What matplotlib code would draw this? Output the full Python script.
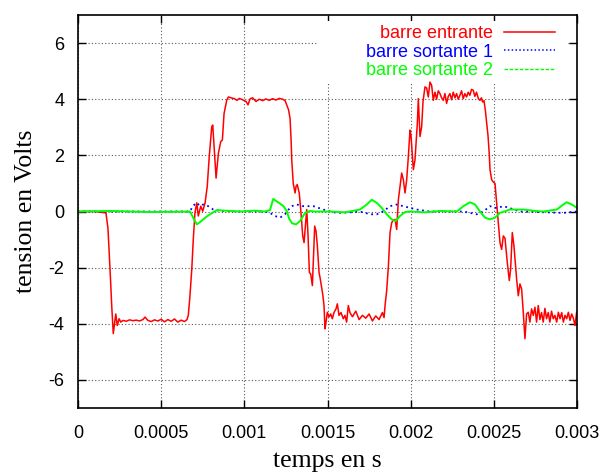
import matplotlib
matplotlib.use("Agg")
import matplotlib.pyplot as plt
from matplotlib.lines import Line2D
from matplotlib.patches import Rectangle
import numpy as np

# temps en ms (converti en s au tracé), tension en V
red_t = [0, 0.102, 0.168, 0.180, 0.192, 0.203, 0.212, 0.227, 0.236, 0.247, 0.257,
         0.27, 0.29, 0.31, 0.33, 0.35, 0.37, 0.39, 0.403, 0.42, 0.44,
         0.46, 0.48, 0.50, 0.52, 0.54, 0.56, 0.58, 0.60, 0.62, 0.64,
         0.655, 0.663, 0.673, 0.684, 0.693, 0.703, 0.714, 0.723, 0.738, 0.750, 0.764, 0.777,
         0.789, 0.804, 0.810, 0.818, 0.830, 0.844, 0.858, 0.868, 0.878, 0.894, 0.904,
         0.92, 0.94, 0.955, 0.97, 0.99, 1.01, 1.022, 1.035, 1.05, 1.07,
         1.09, 1.11, 1.13, 1.15, 1.17, 1.19, 1.21, 1.23, 1.245,
         1.266, 1.275, 1.281, 1.285, 1.294, 1.305, 1.311, 1.318, 1.330, 1.339,
         1.351, 1.359, 1.367, 1.375, 1.383, 1.391, 1.399, 1.409, 1.415, 1.423,
         1.431, 1.439, 1.449, 1.455, 1.463, 1.471, 1.479, 1.485, 1.491, 1.499,
         1.509, 1.519, 1.529, 1.539, 1.551, 1.559, 1.569, 1.581, 1.595, 1.605, 1.615, 1.625,
         1.635, 1.65, 1.67, 1.69, 1.71, 1.73, 1.75, 1.77, 1.79, 1.81, 1.83, 1.84,
         1.846, 1.856, 1.866, 1.876, 1.886, 1.896, 1.906, 1.916, 1.926, 1.936, 1.946, 1.956,
         1.966, 1.976, 1.986, 1.996, 2.002, 2.016, 2.026, 2.040, 2.046, 2.056, 2.066, 2.074,
         2.086, 2.096, 2.106, 2.116, 2.126, 2.136, 2.146, 2.156, 2.166, 2.176,
         2.186, 2.196, 2.206, 2.216, 2.226, 2.236, 2.246, 2.256, 2.266, 2.276,
         2.286, 2.296, 2.306, 2.316, 2.326, 2.336, 2.346, 2.356, 2.366, 2.376,
         2.386, 2.396, 2.407, 2.417, 2.425, 2.433, 2.441,
         2.449, 2.457, 2.465, 2.473, 2.477, 2.487, 2.497, 2.507, 2.517, 2.527,
         2.537, 2.547, 2.557, 2.567, 2.581, 2.593, 2.601, 2.611, 2.621, 2.637,
         2.647, 2.657, 2.667, 2.677, 2.687, 2.697, 2.707, 2.717,
         2.727, 2.737, 2.747, 2.757, 2.767, 2.777, 2.787, 2.797, 2.807, 2.817,
         2.827, 2.837, 2.847, 2.857, 2.867, 2.878, 2.888, 2.898, 2.908, 2.918,
         2.928, 2.938, 2.948, 2.958, 2.968, 2.978, 2.988, 2.998, 3.0]
red_v = [0, 0, -0.05, -0.6, -2.0, -3.4, -4.35, -3.65, -4.06, -3.82, -3.94,
         -3.88, -3.91, -3.86, -3.89, -3.87, -3.90, -3.85, -3.76, -3.88, -3.92,
         -3.86, -3.90, -3.84, -3.93, -3.85, -3.91, -3.83, -3.94, -3.87, -3.92,
         -3.85, -3.7, -3.0, -2.05, -1.0, -0.05, 0.31, -0.16, 0.19, 0.01, 0.31, 0.9,
         1.96, 3.02, 3.08, 2.31, 1.19, 2.08, 2.49, 2.55, 3.49, 3.96, 4.08,
         4.05, 4.02, 3.96, 4.03, 3.98, 3.92, 3.80, 4.02, 4.05, 3.92,
         4.0, 3.95, 4.01, 3.96, 4.02, 3.97, 4.03, 4.0, 3.95,
         3.62, 3.3, 2.55, 1.84, 1.0, 0.66, 0.9, 0.96, 0.66, 0.07,
         -0.87, -1.11, -0.52, 0.07, -0.87, -2.17, -2.23, -2.64, -1.7, -0.52,
         -0.7, -1.23, -2.17, -2.35, -2.64, -2.94, -3.35, -4.18, -3.94, -3.59,
         -3.76, -3.65, -3.82, -3.6, -3.47, -3.29, -3.7, -3.6, -3.82, -3.7, -3.94, -3.35,
         -3.6, -3.75, -3.55, -3.85, -3.7, -3.8, -3.65, -3.9, -3.72, -3.85, -3.6, -3.78,
         -3.35, -2.8, -1.94, -0.75, -0.4, -0.3, -0.28, -0.64, 0.42, 0.9, 1.37, 1.13,
         0.66, 1.13, 1.96, 2.9, 2.7, 1.49, 1.84, 3.14, 4.02, 2.67, 3.02, 3.9,
         4.44, 4.4, 4.08, 4.61, 4.5, 3.96, 4.25, 4.0, 4.3, 4.2,
         4.05, 3.96, 4.2, 3.85, 4.1, 4.2, 3.98, 4.25, 4.05, 4.2,
         4.0, 4.14, 4.3, 4.02, 4.2, 4.08, 4.25, 4.14, 4.35, 4.32,
         4.1, 4.25, 4.02, 3.96, 4.05, 3.9, 3.95,
         3.6, 3.14, 2.7, 2.0, 1.49, 1.13, 1.05, 1.0, 0.31, -0.4,
         -1.11, -1.35, -0.87, -0.95, -1.82, -2.46, -2.05, -0.75, -1.23, -2.41,
         -3.0, -2.58, -2.76, -3.59, -4.53, -3.65, -3.59, -3.94,
         -3.47, -3.7, -3.41, -3.94, -3.35, -3.85, -3.6, -3.94, -3.45, -3.82,
         -3.6, -3.94, -3.55, -3.82, -3.7, -3.94, -3.59, -3.82, -3.6, -3.94,
         -3.7, -3.82, -3.59, -3.88, -3.65, -3.8, -4.06, -3.58, -3.65]

blue_t = [0, 0.673, 0.691, 0.714, 0.733, 0.753, 0.783, 0.813, 0.854, 0.974,
          1.124, 1.154, 1.184, 1.215, 1.244, 1.263, 1.285, 1.315, 1.355, 1.415,
          1.475, 1.515, 1.556, 1.635, 1.695, 1.726, 1.756, 1.796, 1.834, 1.876,
          1.916, 1.956, 2.036, 2.116, 2.317, 2.357, 2.397, 2.437, 2.477, 2.517,
          2.557, 2.597, 2.657, 2.918, 3.0]
blue_v = [0, 0.0, 0.2, 0.31, 0.2, 0.25, 0.19, 0.07, 0.02, 0.0,
          0.0, -0.05, -0.16, -0.22, -0.1, 0.05, 0.19, 0.25, 0.19, 0.19,
          0.07, 0.0, -0.05, -0.03, 0.0, -0.05, -0.1, -0.1, 0.0, 0.19,
          0.25, 0.19, 0.07, 0.0, 0.0, -0.05, -0.1, 0.0, 0.19, 0.12,
          0.19, 0.12, 0.0, -0.05, 0.0]

green_t = [0, 0.2, 0.433, 0.673, 0.691, 0.714, 0.733, 0.753, 0.774, 0.794,
           0.834, 0.884, 0.974, 1.064, 1.124, 1.154, 1.174, 1.195, 1.215, 1.235,
           1.255, 1.269, 1.287, 1.311, 1.335, 1.365, 1.395, 1.415, 1.515, 1.605,
           1.695, 1.736, 1.766, 1.796, 1.826, 1.856, 1.886, 1.910, 1.936, 1.966,
           1.996, 2.086, 2.176, 2.277, 2.317, 2.357, 2.387, 2.417, 2.447, 2.477,
           2.507, 2.537, 2.597, 2.677, 2.748, 2.798, 2.878, 2.918, 2.938, 2.968, 3.0]
green_v = [0, 0.02, -0.02, 0.0, -0.2, -0.46, -0.38, -0.28, -0.18, -0.1,
           0.05, 0.03, 0.0, 0.03, 0.0, 0.05, 0.45, 0.36, 0.28, 0.19,
           0.02, -0.25, -0.42, -0.46, -0.34, -0.05, 0.02, 0.0, 0.0, -0.03,
           0.07, 0.25, 0.42, 0.31, 0.13, -0.1, -0.28, -0.34, -0.16, -0.02,
           0.0, -0.03, 0.02, 0.0, 0.19, 0.33, 0.25, 0.0, -0.22, -0.28,
           -0.22, -0.05, 0.07, 0.07, 0.02, 0.0, 0.07, 0.25, 0.33, 0.25, 0.13]

xticks = [0, 0.0005, 0.001, 0.0015, 0.002, 0.0025, 0.003]
xtick_labels = ["0", "0.0005", "0.001", "0.0015", "0.002", "0.0025", "0.003"]
yticks = [-6, -4, -2, 0, 2, 4, 6]
labels = ["barre entrante", "barre sortante 1", "barre sortante 2"]

plt.rcParams['font.family'] = ['Liberation Sans', 'DejaVu Sans']

fig = plt.figure(figsize=(6.1, 4.72), dpi=100)
ax = fig.add_axes([0.1279, 0.1356, 0.818, 0.8326])

ms = 1e-3
ax.plot(np.array(red_t) * ms, red_v, color='#ff0000', lw=1.1, zorder=2)
ax.plot(np.array(blue_t) * ms, blue_v, color='#0000ff', lw=1.3, ls=(0, (1, 2)), zorder=2)
ax.plot(np.array(green_t) * ms, green_v, color='#00ff00', lw=1.4, zorder=2)

ax.set_xlim(0, 0.003)
ax.set_ylim(-7, 7)
ax.set_xticks(xticks)
ax.set_xticklabels(xtick_labels)
ax.set_yticks(yticks)
ax.set_yticklabels([str(v) for v in yticks])
ax.tick_params(direction='in', length=6, width=1, top=True, right=True, labelsize=13)
ax.tick_params(axis='x', pad=12)
ax.tick_params(axis='y', pad=10)
ax.grid(True, color='#555555', lw=0.8, ls=(0, (1, 2)))
for s in ax.spines.values():
    s.set_linewidth(1.2)

ax.set_xlabel("temps en s", family='Liberation Serif', fontsize=18.5, labelpad=6)
ax.set_ylabel("tension en Volts", family='Liberation Serif', fontsize=18.5, labelpad=8)

# fond blanc de la légende (masque la grille comme gnuplot)
ax.add_patch(Rectangle((0.481, 0.827), 0.499, 0.158, transform=ax.transAxes,
                       facecolor='white', edgecolor='none', zorder=1.8))

handles = [Line2D([], [], color='#ff0000', lw=1.1),
           Line2D([], [], color='#0000ff', lw=1.1, ls=(0, (1, 1.5))),
           Line2D([], [], color='#00ff00', lw=1.0, ls=(0, (2.5, 1.2)))]
leg = ax.legend(handles, labels, loc='upper right', bbox_to_anchor=(0.956, 0.975),
                frameon=False, markerfirst=False, fontsize=13, handlelength=2.8,
                handletextpad=0.65, labelspacing=0.1, borderpad=0, borderaxespad=0,
                labelcolor=['#ff0000', '#0000ff', '#00ff00'])
leg.set_zorder(5)

fig.savefig("out.png", dpi=100)
